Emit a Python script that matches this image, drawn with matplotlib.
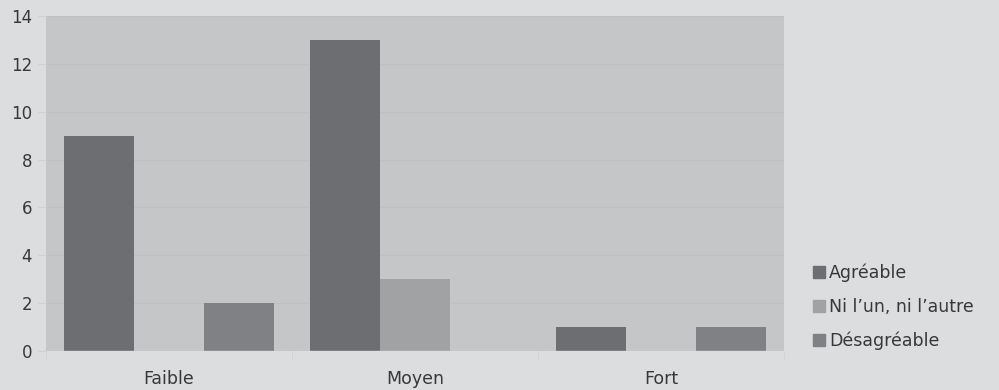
import matplotlib
matplotlib.use("Agg")
import matplotlib.pyplot as plt
from matplotlib.lines import Line2D
import numpy as np

categories = ["Faible", "Moyen", "Fort"]
series_names = ["Agréable", "Ni l\u2019un, ni l\u2019autre", "Désagréable"]
agreable = [9, 13, 1]
ni_lun = [0, 3, 0]
desagreable = [2, 0, 1]
yticks = [0, 2, 4, 6, 8, 10, 12, 14]

colors = ["#6d6e71", "#a1a2a4", "#808184"]
text_color = "#383838"

plt.rcParams["font.family"] = ["DejaVu Sans"]

fig = plt.figure(figsize=(9.99, 3.9), dpi=100, facecolor="#dcdddf")
ax = fig.add_axes([46 / 999, 39 / 390, 738 / 999, 335 / 390])
ax.set_facecolor("#c5c6c8")

x = np.arange(len(categories))
width = 0.2846
for i, (vals, col) in enumerate(zip([agreable, ni_lun, desagreable], colors)):
    ax.bar(x + (i - 1) * width, vals, width, color=col, zorder=3)

ax.set_xlim(-0.5, len(categories) - 0.5)
ax.set_ylim(0, 14)
ax.set_yticks(yticks)
ax.set_yticklabels([str(v) for v in yticks])
ax.set_xticks(x)
ax.set_xticklabels(categories)
ax.set_xticks(np.arange(len(categories) + 1) - 0.5, minor=True)

ax.grid(axis="y", color="#bec0c2", linewidth=0.8, zorder=1)
for s in ax.spines.values():
    s.set_visible(False)
ax.axhline(0, color="#d2d3d5", linewidth=1, zorder=4)

ax.tick_params(axis="y", length=6, color="#cfd0d2", labelsize=12,
               labelcolor=text_color, pad=4)
ax.tick_params(axis="x", which="major", length=0, labelsize=12.5,
               labelcolor=text_color, pad=14)
ax.tick_params(axis="x", which="minor", length=6, color="#cfd0d2")

handles = [Line2D([], [], marker="s", linestyle="", markersize=9,
                  markerfacecolor=c, markeredgecolor=c) for c in colors]
fig.legend(handles, series_names, loc="upper left",
           bbox_to_anchor=(803 / 999, 1 - 257 / 390), frameon=False,
           fontsize=12.5, labelcolor=text_color, handletextpad=0.1,
           labelspacing=0.9, borderaxespad=0, handlelength=1.0)

fig.savefig("out.png", dpi=100, facecolor=fig.get_facecolor())
